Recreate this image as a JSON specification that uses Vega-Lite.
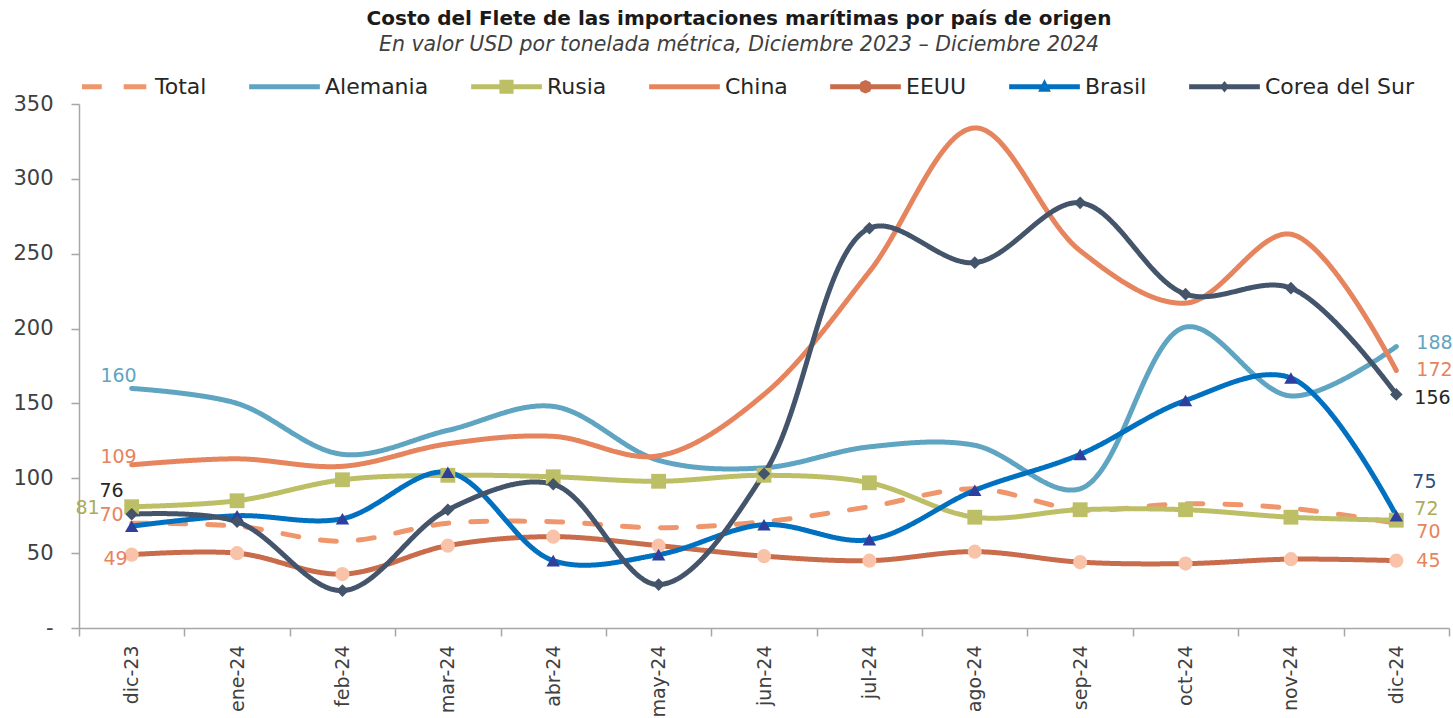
{
  "$schema": "https://vega.github.io/schema/vega-lite/v6.json",
  "width": 1370,
  "height": 524,
  "padding": {"left": 12, "top": 8, "right": 5, "bottom": 0},
  "title": {
    "text": "Costo del Flete de las importaciones marítimas por país de origen",
    "subtitle": "En valor USD por tonelada métrica, Diciembre 2023 – Diciembre 2024",
    "anchor": "middle",
    "dx": -25,
    "font": "DejaVu Sans",
    "fontSize": 20,
    "fontWeight": "bold",
    "color": "#1a1a1a",
    "subtitleFont": "DejaVu Sans",
    "subtitleFontSize": 20.5,
    "subtitleFontStyle": "italic",
    "subtitleColor": "#404040",
    "subtitlePadding": 6,
    "offset": -4
  },
  "config": {
    "view": {"stroke": null},
    "font": "DejaVu Sans",
    "axis": {"labelFont": "DejaVu Sans", "labelColor": "#404040", "labelFontSize": 21, "domainColor": "#A6A6A6", "tickColor": "#A6A6A6", "domainWidth": 1.5, "tickWidth": 1.5, "grid": false, "title": null},
    "legend": {"labelFont": "DejaVu Sans", "labelFontSize": 22, "labelColor": "#262626"}
  },
  "data": {"values": [
    {"m":"dic-23","s":"Total","v":70},{"m":"ene-24","s":"Total","v":68},{"m":"feb-24","s":"Total","v":58},{"m":"mar-24","s":"Total","v":70},{"m":"abr-24","s":"Total","v":71},{"m":"may-24","s":"Total","v":67},{"m":"jun-24","s":"Total","v":71},{"m":"jul-24","s":"Total","v":81},{"m":"ago-24","s":"Total","v":93},{"m":"sep-24","s":"Total","v":79},{"m":"oct-24","s":"Total","v":83},{"m":"nov-24","s":"Total","v":80},{"m":"dic-24","s":"Total","v":70},
    {"m":"dic-23","s":"Alemania","v":160},{"m":"ene-24","s":"Alemania","v":150},{"m":"feb-24","s":"Alemania","v":116},{"m":"mar-24","s":"Alemania","v":132},{"m":"abr-24","s":"Alemania","v":148},{"m":"may-24","s":"Alemania","v":112},{"m":"jun-24","s":"Alemania","v":107},{"m":"jul-24","s":"Alemania","v":121},{"m":"ago-24","s":"Alemania","v":122},{"m":"sep-24","s":"Alemania","v":93},{"m":"oct-24","s":"Alemania","v":201},{"m":"nov-24","s":"Alemania","v":155},{"m":"dic-24","s":"Alemania","v":188},
    {"m":"dic-23","s":"Rusia","v":81},{"m":"ene-24","s":"Rusia","v":85},{"m":"feb-24","s":"Rusia","v":99},{"m":"mar-24","s":"Rusia","v":102},{"m":"abr-24","s":"Rusia","v":101},{"m":"may-24","s":"Rusia","v":98},{"m":"jun-24","s":"Rusia","v":102},{"m":"jul-24","s":"Rusia","v":97},{"m":"ago-24","s":"Rusia","v":74},{"m":"sep-24","s":"Rusia","v":79},{"m":"oct-24","s":"Rusia","v":79},{"m":"nov-24","s":"Rusia","v":74},{"m":"dic-24","s":"Rusia","v":72},
    {"m":"dic-23","s":"China","v":109},{"m":"ene-24","s":"China","v":113},{"m":"feb-24","s":"China","v":108},{"m":"mar-24","s":"China","v":123},{"m":"abr-24","s":"China","v":128},{"m":"may-24","s":"China","v":115},{"m":"jun-24","s":"China","v":156},{"m":"jul-24","s":"China","v":238},{"m":"ago-24","s":"China","v":334},{"m":"sep-24","s":"China","v":252},{"m":"oct-24","s":"China","v":217},{"m":"nov-24","s":"China","v":263},{"m":"dic-24","s":"China","v":172},
    {"m":"dic-23","s":"EEUU","v":49},{"m":"ene-24","s":"EEUU","v":50},{"m":"feb-24","s":"EEUU","v":36},{"m":"mar-24","s":"EEUU","v":55},{"m":"abr-24","s":"EEUU","v":61},{"m":"may-24","s":"EEUU","v":55},{"m":"jun-24","s":"EEUU","v":48},{"m":"jul-24","s":"EEUU","v":45},{"m":"ago-24","s":"EEUU","v":51},{"m":"sep-24","s":"EEUU","v":44},{"m":"oct-24","s":"EEUU","v":43},{"m":"nov-24","s":"EEUU","v":46},{"m":"dic-24","s":"EEUU","v":45},
    {"m":"dic-23","s":"Brasil","v":68},{"m":"ene-24","s":"Brasil","v":75},{"m":"feb-24","s":"Brasil","v":73},{"m":"mar-24","s":"Brasil","v":104},{"m":"abr-24","s":"Brasil","v":45},{"m":"may-24","s":"Brasil","v":49},{"m":"jun-24","s":"Brasil","v":69},{"m":"jul-24","s":"Brasil","v":59},{"m":"ago-24","s":"Brasil","v":92},{"m":"sep-24","s":"Brasil","v":116},{"m":"oct-24","s":"Brasil","v":152},{"m":"nov-24","s":"Brasil","v":167},{"m":"dic-24","s":"Brasil","v":75},
    {"m":"dic-23","s":"Corea del Sur","v":76},{"m":"ene-24","s":"Corea del Sur","v":71},{"m":"feb-24","s":"Corea del Sur","v":25},{"m":"mar-24","s":"Corea del Sur","v":79},{"m":"abr-24","s":"Corea del Sur","v":96},{"m":"may-24","s":"Corea del Sur","v":29},{"m":"jun-24","s":"Corea del Sur","v":103},{"m":"jul-24","s":"Corea del Sur","v":267},{"m":"ago-24","s":"Corea del Sur","v":244},{"m":"sep-24","s":"Corea del Sur","v":284},{"m":"oct-24","s":"Corea del Sur","v":223},{"m":"nov-24","s":"Corea del Sur","v":227},{"m":"dic-24","s":"Corea del Sur","v":156}
  ]},
  "encoding": {
    "x": {"field": "m", "type": "nominal", "sort": null,
      "scale": {"type": "band", "paddingInner": 0, "paddingOuter": 0},
      "axis": {"labelAngle": -90, "labelAlign": "right", "labelBaseline": "middle", "tickBand": "extent", "tickSize": 8, "labelPadding": 9, "labelFontSize": 19}},
    "y": {"field": "v", "type": "quantitative",
      "scale": {"domain": [0, 350], "nice": false, "zero": true},
      "axis": {"values": [0,50,100,150,200,250,300,350], "labelExpr": "datum.value == 0 ? '-' : datum.label", "tickSize": 8, "labelPadding": 18}}
  },
  "layer": [
    {
      "mark": {"type": "line", "interpolate": "catmull-rom", "strokeWidth": 5, "strokeCap": "round"},
      "encoding": {
        "color": {"field": "s", "type": "nominal",
          "scale": {"domain": ["Total","Alemania","Rusia","China","EEUU","Brasil","Corea del Sur"],
                    "range": ["#F0966C","#5FA5C2","#BDBF67","#E6845E","#C96C4B","#0070C0","#44546A"]},
          "legend": {"title": null, "orient": "top", "direction": "horizontal", "symbolType": "stroke", "symbolSize": 5000, "symbolStrokeWidth": 0, "columnPadding": 42, "labelOffset": 5, "offset": 6,
            "encode": {"symbols": {"update": {
              "shape": {"signal": "datum.value === 'Rusia' ? 'M-1,-0.07H1V0.07H-1Z M-0.2,-0.2H0.2V0.2H-0.2Z' : datum.value === 'EEUU' ? 'M-1,-0.07H1V0.07H-1Z M0.19,0L0.134,0.134L0,0.19L-0.134,0.134L-0.19,0L-0.134,-0.134L0,-0.19L0.134,-0.134Z' : datum.value === 'Brasil' ? 'M-1,-0.07H1V0.07H-1Z M0,-0.22L0.18,0.14H-0.18Z' : datum.value === 'Corea del Sur' ? 'M-1,-0.07H1V0.07H-1Z M0,-0.16L0.13,0L0,0.16L-0.13,0Z' : datum.value === 'Total' ? 'M-0.92,-0.07H-0.36V0.07H-0.92Z M0.26,-0.07H0.9V0.07H0.26Z' : 'M-1,-0.07H1V0.07H-1Z'"},
              "fill": {"signal": "scale('color', datum.value)"},
              "stroke": {"value": "transparent"},
              "strokeWidth": {"value": 0}
            }}}}},
        "strokeDash": {"field": "s", "type": "nominal", "legend": null,
          "scale": {"domain": ["Total","Alemania","Rusia","China","EEUU","Brasil","Corea del Sur"],
                    "range": [[16,22],[1,0],[1,0],[1,0],[1,0],[1,0],[1,0]]}}
      }
    },
    {
      "transform": [{"filter": "indexof(['Rusia','EEUU','Brasil','Corea del Sur'], datum.s) >= 0"}],
      "mark": {"type": "point", "filled": true, "opacity": 1, "strokeWidth": 0},
      "encoding": {
        "fill": {"field": "s", "type": "nominal", "legend": null,
          "scale": {"domain": ["Rusia","EEUU","Brasil","Corea del Sur"], "range": ["#BDBF67","#F8C3A8","#2E3F9E","#44546A"]}},
        "shape": {"field": "s", "type": "nominal", "legend": null,
          "scale": {"domain": ["Rusia","EEUU","Brasil","Corea del Sur"], "range": ["square","circle","triangle-up","diamond"]}},
        "size": {"field": "s", "type": "nominal", "legend": null,
          "scale": {"domain": ["Rusia","EEUU","Brasil","Corea del Sur"], "range": [220, 160, 150, 150]}}
      }
    },
    {"transform": [{"filter": "datum.m == 'dic-23' && datum.s == 'Alemania'"}], "mark": {"type": "text", "align": "right", "dx": 5, "dy": -12, "fontSize": 19, "color": "#5FA5C2"}, "encoding": {"text": {"field": "v"}}},
    {"transform": [{"filter": "datum.m == 'dic-23' && datum.s == 'China'"}], "mark": {"type": "text", "align": "right", "dx": 5, "dy": -8, "fontSize": 19, "color": "#E6845E"}, "encoding": {"text": {"field": "v"}}},
    {"transform": [{"filter": "datum.m == 'dic-23' && datum.s == 'Corea del Sur'"}], "mark": {"type": "text", "align": "right", "dx": -8, "dy": -23, "fontSize": 19, "color": "#262626"}, "encoding": {"text": {"field": "v"}}},
    {"transform": [{"filter": "datum.m == 'dic-23' && datum.s == 'Rusia'"}], "mark": {"type": "text", "align": "right", "dx": -32, "dy": 1, "fontSize": 19, "color": "#A9AD59"}, "encoding": {"text": {"field": "v"}}},
    {"transform": [{"filter": "datum.m == 'dic-23' && datum.s == 'Total'"}], "mark": {"type": "text", "align": "right", "dx": -8, "dy": -8, "fontSize": 19, "color": "#E6845E"}, "encoding": {"text": {"field": "v"}}},
    {"transform": [{"filter": "datum.m == 'dic-23' && datum.s == 'EEUU'"}], "mark": {"type": "text", "align": "right", "dx": -4, "dy": 4, "fontSize": 19, "color": "#E6845E"}, "encoding": {"text": {"field": "v"}}},
    {"transform": [{"filter": "datum.m == 'dic-24' && datum.s == 'Alemania'"}], "mark": {"type": "text", "align": "left", "dx": 20, "dy": -4, "fontSize": 19, "color": "#5FA5C2"}, "encoding": {"text": {"field": "v"}}},
    {"transform": [{"filter": "datum.m == 'dic-24' && datum.s == 'China'"}], "mark": {"type": "text", "align": "left", "dx": 20, "dy": 0, "fontSize": 19, "color": "#E6845E"}, "encoding": {"text": {"field": "v"}}},
    {"transform": [{"filter": "datum.m == 'dic-24' && datum.s == 'Corea del Sur'"}], "mark": {"type": "text", "align": "left", "dx": 18, "dy": 4, "fontSize": 19, "color": "#262626"}, "encoding": {"text": {"field": "v"}}},
    {"transform": [{"filter": "datum.m == 'dic-24' && datum.s == 'Brasil'"}], "mark": {"type": "text", "align": "left", "dx": 16, "dy": -34, "fontSize": 19, "color": "#2E4D7A"}, "encoding": {"text": {"field": "v"}}},
    {"transform": [{"filter": "datum.m == 'dic-24' && datum.s == 'Rusia'"}], "mark": {"type": "text", "align": "left", "dx": 18, "dy": -11, "fontSize": 19, "color": "#A9AD59"}, "encoding": {"text": {"field": "v"}}},
    {"transform": [{"filter": "datum.m == 'dic-24' && datum.s == 'Total'"}], "mark": {"type": "text", "align": "left", "dx": 20, "dy": 9, "fontSize": 19, "color": "#E6845E"}, "encoding": {"text": {"field": "v"}}},
    {"transform": [{"filter": "datum.m == 'dic-24' && datum.s == 'EEUU'"}], "mark": {"type": "text", "align": "left", "dx": 20, "dy": 0, "fontSize": 19, "color": "#E6845E"}, "encoding": {"text": {"field": "v"}}}
  ]
}
